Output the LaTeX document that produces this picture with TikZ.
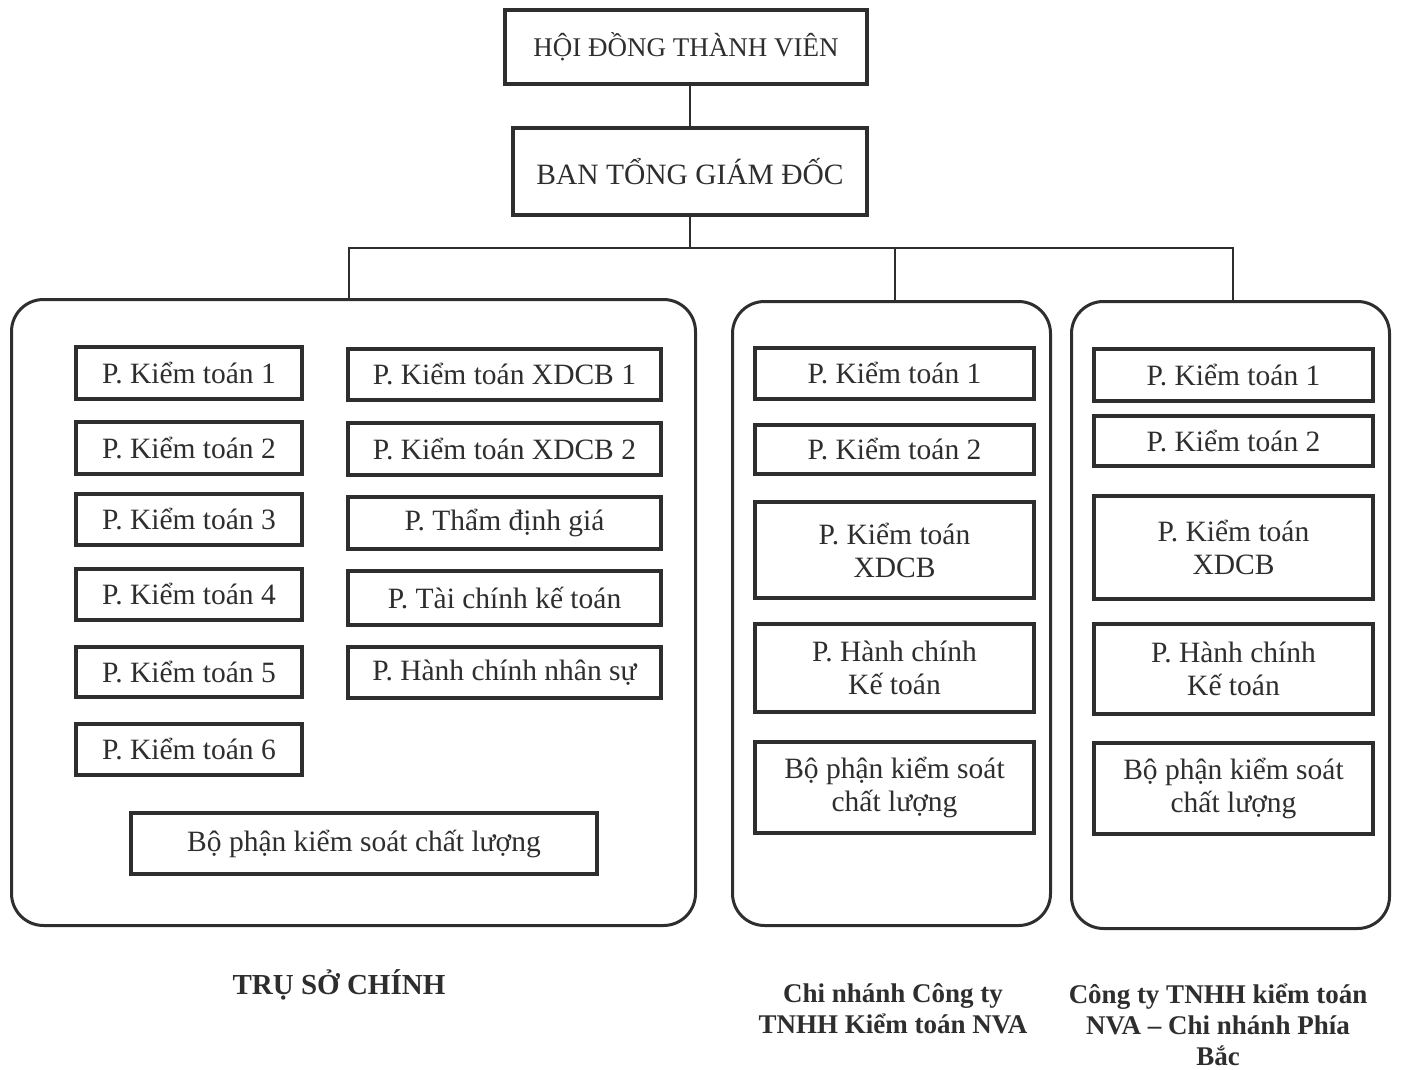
\documentclass[tikz,border=0pt]{standalone}
\usepackage{fontspec}
\setmainfont{Liberation Serif}
\definecolor{ink}{HTML}{2E2E2E}
\tikzset{
  x=1pt, y=-1pt,
  unitbox/.style={draw=ink, line width=3.6pt, inner sep=0pt, align=center, text=ink,
    font=\fontsize{29.5}{33}\selectfont},
  leftcol/.style={unitbox, minimum width=226pt},
  rightcol/.style={unitbox, minimum width=313pt},
  branchbox/.style={unitbox, minimum width=279pt},
  topbox/.style={unitbox, line width=4pt},
  frame/.style={draw=ink, line width=3pt, rounded corners=32pt, inner sep=0pt},
  link/.style={draw=ink, line width=2pt},
  caption/.style={align=center, text=ink, font=\bfseries\fontsize{27}{31}\selectfont},
}
\begin{document}
\begin{tikzpicture}
\useasboundingbox (0,0) rectangle (1401,1070);
% top
\node[topbox, minimum width=362pt, minimum height=74pt, font=\fontsize{27}{30}\selectfont] (htv) at (686,47) {HỘI ĐỒNG THÀNH VIÊN};
\node[topbox, minimum width=354pt, minimum height=87pt, font=\fontsize{29.5}{30}\selectfont] (btgd) at (690,171.5) {BAN TỔNG GIÁM ĐỐC};
% containers
\node[frame, minimum width=684pt, minimum height=626pt] (main) at (353.5,612.5) {};
\node[frame, minimum width=318pt, minimum height=624pt] (mid) at (891.5,613.5) {};
\node[frame, minimum width=318pt, minimum height=627pt] (rgt) at (1230.5,615) {};
% connectors
\draw[link] (btgd.north |- htv.south) -- (btgd.north);
\draw[link] (btgd.south) -- (btgd.south |- 0,248);
\draw[link] ([xshift=-4.5pt]main.north) |- ([xshift=2.5pt]rgt.north |- 0,248) -- ([xshift=2.5pt]rgt.north);
\draw[link] ([xshift=3.5pt]mid.north) -- ([xshift=3.5pt]mid.north |- 0,248);
% main: left column
\node[leftcol, minimum height=52pt] (m1) at (189,373) {P. Kiểm toán 1};
\node[leftcol, minimum height=52pt] (m2) at (189,448) {P. Kiểm toán 2};
\node[leftcol, minimum height=51pt] (m3) at (189,519.5) {P. Kiểm toán 3};
\node[leftcol, minimum height=51pt] (m4) at (189,594.5) {P. Kiểm toán 4};
\node[leftcol, minimum height=50pt] (m5) at (189,672) {P. Kiểm toán 5};
\node[leftcol, minimum height=51pt] (m6) at (189,749.5) {P. Kiểm toán 6};
% main: right column
\node[rightcol, minimum height=51pt] (x1) at (504.5,374.5) {P. Kiểm toán XDCB 1};
\node[rightcol, minimum height=52pt] (x2) at (504.5,449) {P. Kiểm toán XDCB 2};
\node[rightcol, minimum height=52pt] (tdg) at (504.5,523) {P. Thẩm định giá};
\node[rightcol, minimum height=54pt] (tckt) at (504.5,598) {P. Tài chính kế toán};
\node[rightcol, minimum height=51pt] (hcns) at (504.5,672.5) {P. Hành chính nhân sự};
\node[unitbox, minimum width=466pt, minimum height=61pt] (kscl) at (364,843.5) {Bộ phận kiểm soát chất lượng};
% middle branch
\node[branchbox, minimum height=51pt] (b1) at (894.5,373.5) {P. Kiểm toán 1};
\node[branchbox, minimum height=49pt] (b2) at (894.5,449.5) {P. Kiểm toán 2};
\node[branchbox, minimum height=96pt] (bx) at (894.5,550) {P. Kiểm toán\\XDCB};
\node[branchbox, minimum height=88pt] (bh) at (894.5,668) {P. Hành chính\\Kế toán};
\node[branchbox, minimum height=91pt] (bk) at (894.5,787.5) {Bộ phận kiểm soát\\chất lượng};
% right branch
\node[branchbox, minimum height=52pt] (c1) at (1233.5,375) {P. Kiểm toán 1};
\node[branchbox, minimum height=50pt] (c2) at (1233.5,441) {P. Kiểm toán 2};
\node[branchbox, minimum height=103pt] (cx) at (1233.5,547.5) {P. Kiểm toán\\XDCB};
\node[branchbox, minimum height=90pt] (ch) at (1233.5,669) {P. Hành chính\\Kế toán};
\node[branchbox, minimum height=91pt] (ck) at (1233.5,788.5) {Bộ phận kiểm soát\\chất lượng};
% captions
\node[caption, font=\bfseries\fontsize{29}{31}\selectfont] (cap1) at (339,985) {TRỤ SỞ CHÍNH};
\node[caption] (cap2) at (893,1009) {Chi nhánh Công ty\\TNHH Kiểm toán NVA};
\node[caption] (cap3) at (1218,1025) {Công ty TNHH kiểm toán\\NVA – Chi nhánh Phía\\Bắc};
\end{tikzpicture}
\end{document}
